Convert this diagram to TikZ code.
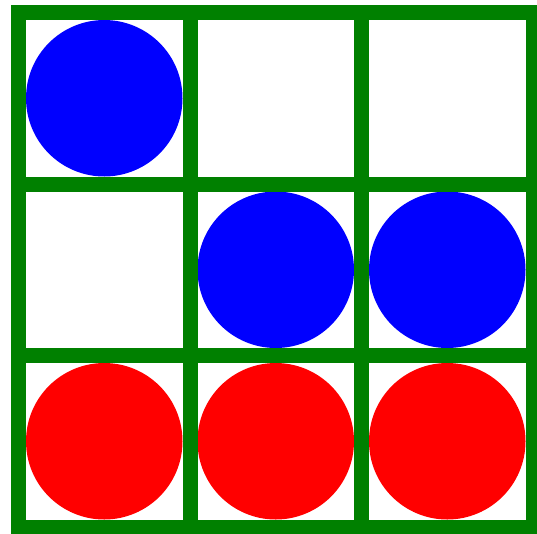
\documentclass[tikz,border=0pt]{standalone}
\usepackage{tikz}
\usepackage{xcolor}
\definecolor{boardGreen}{RGB}{0,128,0}
\definecolor{discBlue}{RGB}{0,0,255}
\definecolor{discRed}{RGB}{255,0,0}

\begin{document}
\begin{tikzpicture}[
            x=1pt, y=-1pt,
            disc/.style={circle, draw=none, inner sep=0pt, minimum size=156.5pt},
            gridline/.style={draw=boardGreen, line width=15pt}
        ]
            \useasboundingbox[fill=white] (0,0) rectangle (537,533);
            % discs, cell size 171.5
            \node[disc, fill=discBlue] (b11) at (104.25,98.25) {};
            \node[disc, fill=discBlue] (b22) at (275.75,269.75) {};
            \node[disc, fill=discBlue] (b23) at (447.25,269.75) {};
            \foreach \i/\x in {1/104.25, 2/275.75, 3/447.25}
                \node[disc, fill=discRed] (r3\i) at (\x,441.25) {};
            % board
            \foreach \k in {1,2}{
                \draw[gridline] ({18.5+171.5*\k},12.5) -- ({18.5+171.5*\k},527);
                \draw[gridline] (18.5,{12.5+171.5*\k}) -- (533,{12.5+171.5*\k});
            }
            \draw[gridline] (18.5,12.5) rectangle (533,527);
        \end{tikzpicture}
\end{document}
